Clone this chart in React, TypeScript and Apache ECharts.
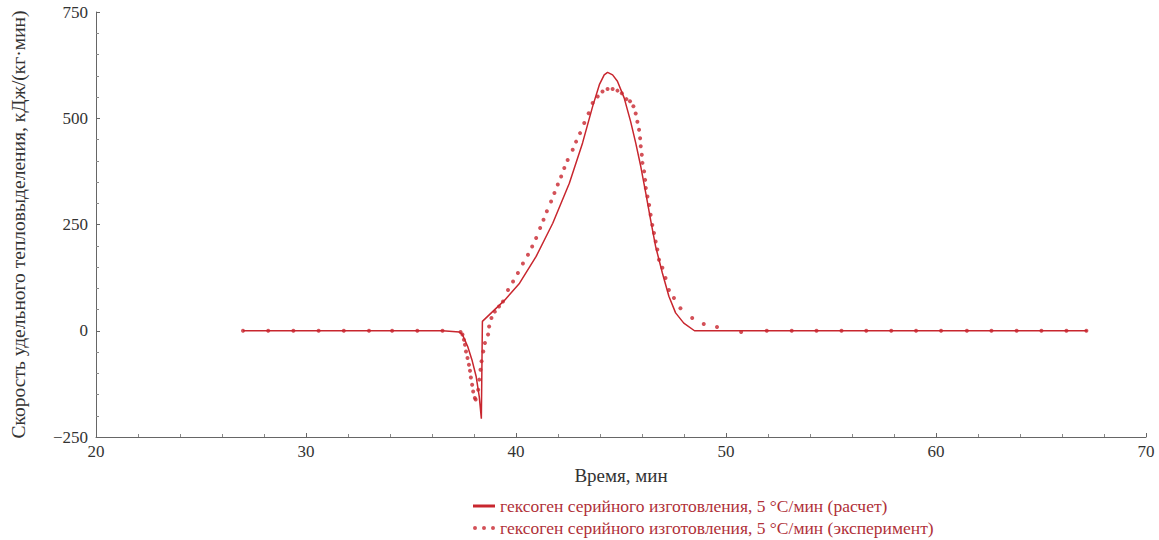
import React, { useEffect, useRef } from "react";
import * as echarts from "echarts";

const calcTime = [27, 36.5, 37.3, 37.45, 37.7, 37.9, 38.1, 38.25, 38.35, 38.4, 39.46, 40.17, 40.96, 41.75, 42.54, 43.17, 43.65, 43.97, 44.2, 44.36, 44.6, 44.83, 45.15, 45.46, 45.7, 45.94, 46.18, 46.41, 46.65, 46.97, 47.28, 47.6, 47.99, 48.5, 67.2];
const calcValue = [0, 0, -3, -9, -37, -68, -107, -155, -207, 22, 72, 112, 175, 253, 347, 442, 528, 579, 602, 608, 602, 587, 548, 492, 442, 387, 324, 261, 198, 136, 81, 42, 18, 0, 0];

const expTime = [27.0, 28.2, 29.4, 30.6, 31.8, 33.0, 34.1, 35.3, 36.5, 37.36, 37.45, 37.52, 37.57, 37.62, 37.69, 37.76, 37.81, 37.85, 37.91, 37.96, 38.04, 38.08, 38.2, 38.25, 38.31, 38.36, 38.44, 38.52, 38.67, 38.72, 38.83, 38.99, 39.19, 39.38, 39.62, 39.86, 40.09, 40.33, 40.57, 40.77, 40.96, 41.15, 41.31, 41.47, 41.67, 41.83, 41.99, 42.15, 42.3, 42.46, 42.7, 42.86, 43.05, 43.25, 43.46, 43.65, 43.89, 44.12, 44.36, 44.6, 44.83, 45.04, 45.26, 45.43, 45.59, 45.7, 45.78, 45.86, 45.91, 45.94, 45.99, 46.02, 46.1, 46.15, 46.18, 46.26, 46.34, 46.41, 46.49, 46.57, 46.65, 46.73, 46.81, 46.97, 47.12, 47.28, 47.52, 47.83, 48.39, 48.94, 49.57, 50.72, 51.94, 53.13, 54.31, 55.5, 56.68, 57.87, 59.05, 60.24, 61.47, 62.64, 63.84, 65.02, 66.21, 67.16];
const expValue = [0, 0, 0, 0, 0, 0, 0, 0, 0, -3, -9, -21, -33, -49, -64, -80, -94, -110, -127, -143, -158, -162, -139, -115, -92, -72, -49, -29, -9, 10, 30, 45, 57, 69, 96, 116, 136, 158, 179, 198, 218, 242, 261, 281, 304, 324, 344, 363, 383, 402, 426, 445, 465, 489, 512, 536, 551, 563, 569, 569, 565, 559, 545, 540, 528, 511, 492, 473, 453, 434, 414, 395, 375, 355, 336, 316, 296, 273, 249, 230, 210, 191, 167, 148, 124, 96, 77, 53, 30, 16, 9, -3, 0, 0, 0, 0, 0, 0, 0, 0, 0, 0, 0, 0, 0, 0];

const seriesNames = [
  "гексоген серийного изготовления, 5 °С/мин (расчет)",
  "гексоген серийного изготовления, 5 °С/мин (эксперимент)",
];
const xName = "Время, мин";
const yName = "Скорость удельного тепловыделения, кДж/(кг·мин)";

const RED = "#c8262e";
const FONT = "'Liberation Serif', 'DejaVu Serif', serif";

export default function App() {
  const ref = useRef<HTMLDivElement>(null);
  useEffect(() => {
    if (!ref.current) return;
    const chart = echarts.init(ref.current, undefined, { renderer: "svg" });
    const axisCommon = {
      axisLine: { show: true, onZero: false, lineStyle: { color: "#666", width: 1 } },
      axisTick: { show: true, inside: true, length: 4, lineStyle: { color: "#666" } },
      minorTick: { show: true, splitNumber: 5, length: 3, lineStyle: { color: "#888" } },
      splitLine: { show: false },
      axisLabel: {
        color: "#333",
        fontFamily: FONT,
        fontSize: 17,
        formatter: (v: number) => String(v).replace("-", "\u2212"),
      },
    };
    const legendCommon = {
      orient: "vertical",
      left: 468,
      itemGap: 6,
      itemWidth: 22,
      itemHeight: 4,
      textStyle: { color: "#b03038", fontFamily: FONT, fontSize: 17.5 },
    };
    chart.setOption({
      animation: false,
      textStyle: { fontFamily: FONT },
      grid: { left: 91, right: 13, top: 12, bottom: 103, containLabel: false },
      legend: [
        {
          ...legendCommon,
          top: 492,
          data: [{ name: seriesNames[0], icon: "path://M0,0H22V3H0Z" }],
        },
        {
          ...legendCommon,
          top: 514,
          data: [
            {
              name: seriesNames[1],
              icon:
                "path://M2,0A2,2,0,1,1,2,4A2,2,0,1,1,2,0Z M11,0A2,2,0,1,1,11,4A2,2,0,1,1,11,0Z M20,0A2,2,0,1,1,20,4A2,2,0,1,1,20,0Z",
            },
          ],
        },
      ],
      xAxis: {
        type: "value",
        min: 20,
        max: 70,
        interval: 10,
        name: xName,
        nameLocation: "middle",
        nameGap: 29,
        nameTextStyle: { color: "#333", fontFamily: FONT, fontSize: 19 },
        ...axisCommon,
        axisLabel: { ...axisCommon.axisLabel, margin: 6 },
      },
      yAxis: {
        type: "value",
        min: -250,
        max: 750,
        interval: 250,
        name: yName,
        nameLocation: "middle",
        nameGap: 68,
        nameTextStyle: { color: "#333", fontFamily: FONT, fontSize: 19.5 },
        ...axisCommon,
        axisLabel: { ...axisCommon.axisLabel, margin: 8 },
      },
      series: [
        {
          name: seriesNames[0],
          type: "line",
          data: calcTime.map((t, i) => [t, calcValue[i]]),
          showSymbol: false,
          symbol: "none",
          lineStyle: { color: RED, width: 1.5 },
          itemStyle: { color: RED },
          z: 2,
        },
        {
          name: seriesNames[1],
          type: "scatter",
          data: expTime.map((t, i) => [t, expValue[i]]),
          symbol: "circle",
          symbolSize: 4,
          itemStyle: { color: RED },
          z: 3,
        },
      ],
    });
    return () => chart.dispose();
  }, []);
  return <div ref={ref} style={{ width: 1159, height: 540, position: "absolute", left: 0, top: 0 }} />;
}
